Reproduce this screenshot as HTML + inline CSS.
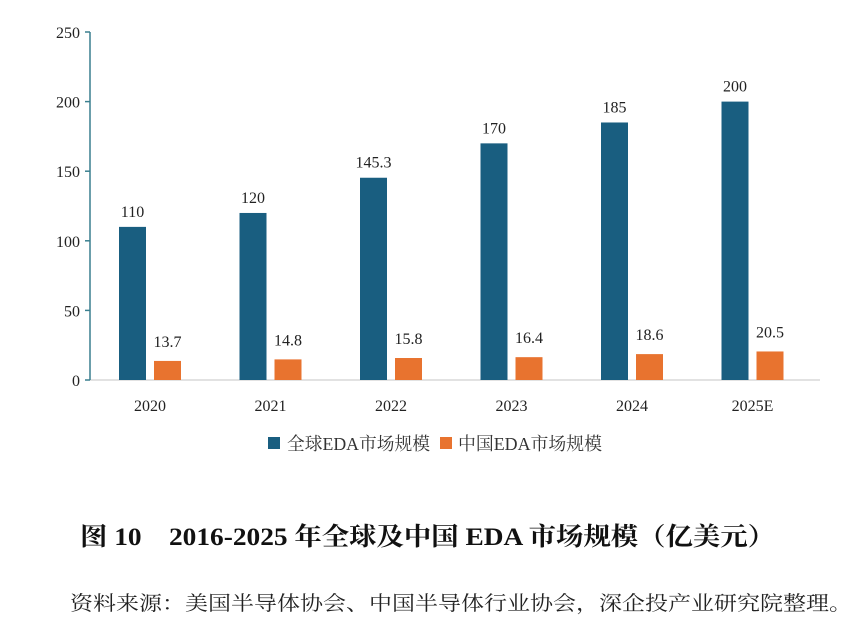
<!DOCTYPE html>
<html><head><meta charset="utf-8"><style>
body{margin:0;background:#fff;width:861px;height:627px;overflow:hidden;font-family:"Liberation Serif","Noto Serif CJK SC",serif;}
svg{position:absolute;left:0;top:0}
</style></head><body>
<svg width="861" height="627">
<g id="axes"></g><g id="bars"></g>
<g font-family="Liberation Serif, Noto Serif CJK SC, serif" font-size="18" fill="#333">
<rect x="268" y="437" width="12" height="12" fill="#195e80"/>
<text x="287" y="450" textLength="143" lengthAdjust="spacingAndGlyphs">全球EDA市场规模</text>
<rect x="440" y="437" width="12" height="12" fill="#e8732f"/>
<text x="458" y="450" textLength="144" lengthAdjust="spacingAndGlyphs">中国EDA市场规模</text>
</g>
<text x="80" y="545" font-size="25" font-weight="bold" fill="#111" textLength="695" lengthAdjust="spacingAndGlyphs" font-family="Liberation Serif, Noto Serif CJK SC, serif">图 10　2016-2025 年全球及中国 EDA 市场规模（亿美元）</text>
<text x="70" y="610" font-size="20" fill="#222" textLength="782" lengthAdjust="spacingAndGlyphs" font-family="Liberation Serif, Noto Serif CJK SC, serif">资料来源：美国半导体协会、中国半导体行业协会，深企投产业研究院整理。</text>
</svg>
<script>
const categories=["2020","2021","2022","2023","2024","2025E"];
const globalValues=[110,120,145.3,170,185,200];
const chinaValues=[13.7,14.8,15.8,16.4,18.6,20.5];
const yTicks=[0,50,100,150,200,250];
const NS="http://www.w3.org/2000/svg";
const y0=380,yTop=32,yMax=250;
const y=v=>y0-(v/yMax)*(y0-yTop);
const xc=i=>150+i*120.5;
function mk(t,a,p,txt){const e=document.createElementNS(NS,t);for(const k in a)e.setAttribute(k,a[k]);if(txt!==undefined)e.textContent=txt;p.appendChild(e);return e;}
const ax=document.getElementById('axes'),bars=document.getElementById('bars');
let l=mk('line',{x1:90,y1:y0,x2:820,y2:y0,stroke:'#d0d0d0','stroke-width':1.2},ax);


l=mk('line',{x1:90,y1:yTop,x2:90,y2:y0,stroke:'#3a7f8f','stroke-width':1.5},ax);


yTicks.forEach(v=>{
 const t=mk('line',{x1:85,y1:y(v),x2:90,y2:y(v),stroke:'#3a7f8f','stroke-width':1.5},ax);
 
 
 const tx=mk('text',{x:80,y:y(v)+6,'text-anchor':'end','font-size':16,fill:'#222'},ax,String(v));
 
 
});
categories.forEach((c,i)=>{
 const cx=xc(i);
 const tx=mk('text',{x:cx,y:411,'text-anchor':'middle','font-size':16,fill:'#222'},ax,c);
 
 
 const g=globalValues[i],h=chinaValues[i];
 const b1=mk('rect',{x:cx-31,y:y(g),width:27,height:y0-y(g),fill:'#195e80'},bars);
 
 
 const b2=mk('rect',{x:cx+4,y:y(h),width:27,height:y0-y(h),fill:'#e8732f'},bars);
 
 
 const t1=mk('text',{x:cx-17.5,y:y(g)-10,'text-anchor':'middle','font-size':16,fill:'#222'},bars,String(g));
 
 
 const t2=mk('text',{x:cx+17.5,y:y(h)-14,'text-anchor':'middle','font-size':16,fill:'#222'},bars,String(h));
 
 
});
</script>
</body></html>
